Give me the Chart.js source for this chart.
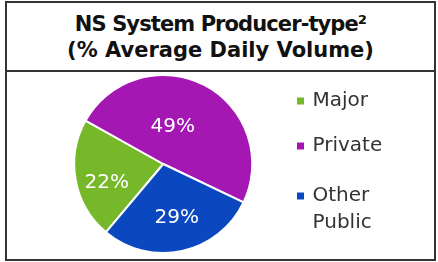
<!DOCTYPE html>
<html>
<head>
<meta charset="utf-8">
<script src="https://cdn.jsdelivr.net/npm/chart.js@4.4.0/dist/chart.umd.min.js"></script>
<style>
	html, body { margin: 0; padding: 0; background: #fff; }
	body { width: 438px; height: 262px; position: relative; overflow: hidden; }
	#frame {
		position: absolute; left: 5px; top: 1px;
		width: 427px; height: 256px;
		border: 2px solid #333;
	}
	#title {
		height: 59px; padding-top: 8px;
		border-bottom: 2px solid #333;
		font: bold 21px "DejaVu Sans", sans-serif;
		line-height: 26px; text-align: center; color: #111;
	}
	#title .l1 { letter-spacing: -0.9px; }
	#wrapper-pie { position: relative; width: 427px; height: 187px; }
</style>
</head>
<body>
<div id="frame">
	<div id="title"><span class="l1">NS System Producer-type²</span><br>(% Average Daily Volume)</div>
	<div id="wrapper-pie"><canvas id="pie-producer" width="427" height="187"></canvas></div>
</div>
<script>
// data
const categories = ["Major", "Private", ["Other", "Public"]];
const shares = [22, 49, 29];
const sliceColors = ["#76B82A", "#A517B3", "#0B48BF"];

// label placement inside each slice (fraction of radius, angle nudge in degrees)
const labelPlace = [
	{ r: 0.67, a: -8 },
	{ r: 0.43, a: -13 },
	{ r: 0.62, a: -2 },
];

const sliceLabels = {
	id: "sliceLabels",
	afterDatasetsDraw(chart) {
		const ctx = chart.ctx;
		const meta = chart.getDatasetMeta(0);
		ctx.save();
		ctx.fillStyle = "#fff";
		ctx.font = '20px "DejaVu Sans", sans-serif';
		ctx.textAlign = "center";
		ctx.textBaseline = "middle";
		meta.data.forEach((arc, i) => {
			const p = arc.getProps(["x", "y", "startAngle", "endAngle", "outerRadius"], true);
			const ang = (p.startAngle + p.endAngle) / 2 + (labelPlace[i].a * Math.PI) / 180;
			const r = p.outerRadius * labelPlace[i].r;
			ctx.fillText(shares[i] + "%", p.x + Math.cos(ang) * r, p.y + Math.sin(ang) * r);
		});
		ctx.restore();
	},
};

// legend column on the right, drawn by hand (built-in one wraps the 3rd item)
const sideLegend = {
	id: "sideLegend",
	afterDraw(chart) {
		const ctx = chart.ctx;
		const boxX = 290, textX = 305.5, box = 7;
		const rowSteps = [0, 45, 50];
		const lineGap = 27;
		let base = 34;
		ctx.save();
		ctx.font = '20px "DejaVu Sans", sans-serif';
		ctx.textBaseline = "alphabetic";
		ctx.textAlign = "left";
		chart.data.labels.forEach((lbl, i) => {
			base += rowSteps[i];
			ctx.fillStyle = sliceColors[i];
			ctx.fillRect(boxX, base - 8.5, box, box);
			ctx.fillStyle = "#333";
			const lines = Array.isArray(lbl) ? lbl : [lbl];
			lines.forEach((t, j) => ctx.fillText(t, textX, base + j * lineGap));
		});
		ctx.restore();
	},
};

const ctx = document.getElementById("pie-producer").getContext("2d");
new Chart(ctx, {
	type: "pie",
	data: {
		labels: categories,
		datasets: [
			{
				data: shares,
				backgroundColor: sliceColors,
				borderColor: "#fff",
				borderWidth: 2,
			},
		],
	},
	options: {
		responsive: false,
		animation: false,
		rotation: 220,
		layout: { padding: { left: 52, right: 166.5, top: 2, bottom: 5 } },
		plugins: {
			tooltip: { enabled: false },
			legend: { display: false },
		},
	},
	plugins: [sliceLabels, sideLegend],
});
</script>
</body>
</html>
